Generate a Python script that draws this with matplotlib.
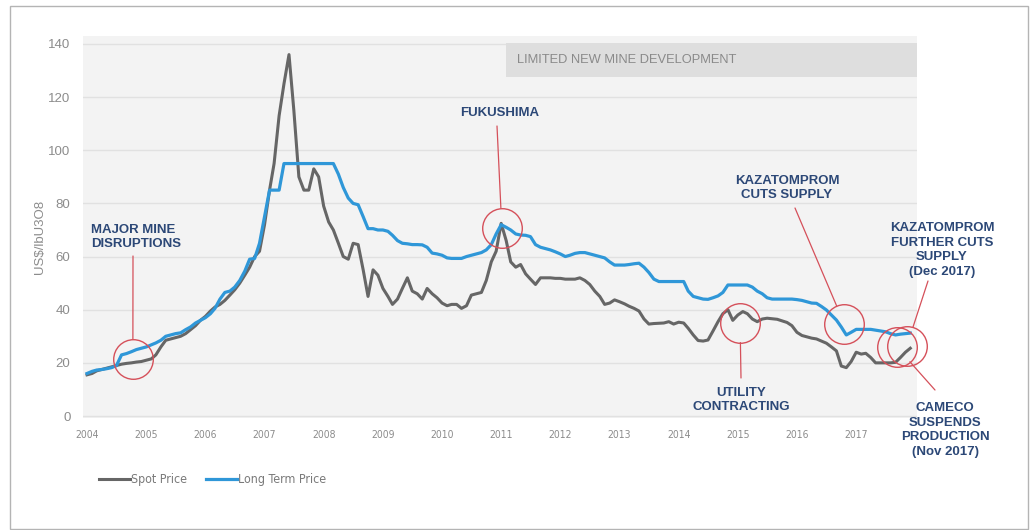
import numpy as np
import pandas as pd
import matplotlib
matplotlib.use("Agg")
import matplotlib.pyplot as plt
import matplotlib.transforms as mtransforms
import matplotlib.patches as mpatches
import matplotlib.dates as mdates

# ---- data: monthly uranium prices, Jan 2004 - Dec 2017 (US$/lb U3O8) ----
start_month = "2004-01-01"

spot_price = [
    # 2004
    15.5, 16.0, 17.0, 17.5, 18.0, 18.5, 19.0, 19.5, 19.8, 20.0, 20.3, 20.5,
    # 2005
    21.0, 21.5, 23.0, 26.0, 28.5, 29.0, 29.5, 30.0, 31.0, 32.5, 34.0, 36.0,
    # 2006
    37.5, 39.5, 41.0, 42.0, 43.5, 45.5, 47.5, 50.0, 53.0, 56.0, 60.0, 62.0,
    # 2007
    72.0, 85.0, 95.0, 113.0, 125.0, 136.0, 115.0, 90.0, 85.0, 85.0, 93.0, 90.0,
    # 2008
    79.0, 73.0, 70.0, 65.0, 60.0, 59.0, 65.0, 64.5, 55.0, 45.0, 55.0, 53.0,
    # 2009
    48.0, 45.0, 42.0, 44.0, 48.0, 52.0, 47.0, 46.0, 44.0, 48.0, 46.0, 44.5,
    # 2010
    42.5, 41.5, 42.0, 42.0, 40.5, 41.5, 45.5, 46.0, 46.5, 51.0, 58.0, 62.0,
    # 2011
    72.5, 66.0, 58.0, 56.0, 57.0, 53.5, 51.5, 49.5, 52.0, 52.0, 52.0, 51.8,
    # 2012
    51.8, 51.5, 51.5, 51.5, 52.0, 51.0, 49.5, 47.0, 45.0, 42.0, 42.5, 43.7,
    # 2013
    43.0, 42.2, 41.3, 40.5, 39.5, 36.5, 34.6, 34.8, 34.9, 35.0, 35.5, 34.6,
    # 2014
    35.3, 35.0, 33.0, 30.5, 28.4, 28.2, 28.6, 32.0, 35.5, 38.5, 40.0, 36.0,
    # 2015
    38.0, 39.3, 38.5, 36.5, 35.5, 36.5, 36.8, 36.6, 36.4, 35.8, 35.2, 34.0,
    # 2016
    31.5, 30.3, 29.8, 29.3, 29.0, 28.2, 27.4, 26.0, 24.5, 18.8, 18.2, 20.5,
    # 2017
    24.0, 23.3, 23.6, 22.0, 20.0, 20.0, 20.0, 20.0, 20.2, 22.0, 24.0, 25.5,
]

long_term_price = [
    # 2004
    16.0, 16.8, 17.3, 17.5, 17.8, 18.2, 19.0, 23.0, 23.5, 24.2, 25.0, 25.5,
    # 2005
    26.0, 26.8, 27.5, 28.5, 30.0, 30.5, 31.0, 31.3, 32.5, 33.5, 35.0, 36.0,
    # 2006
    37.0, 38.5, 40.5, 44.0, 46.5, 47.0, 48.5, 51.0, 54.5, 59.0, 59.3, 65.0,
    # 2007
    75.0, 85.0, 85.0, 85.0, 95.0, 95.0, 95.0, 95.0, 95.0, 95.0, 95.0, 95.0,
    # 2008
    95.0, 95.0, 95.0, 91.0, 86.0, 82.0, 80.0, 79.5, 75.0, 70.5, 70.5, 70.0,
    # 2009
    70.0, 69.5, 68.0, 66.0, 65.0, 64.8, 64.5, 64.5, 64.4, 63.5, 61.3, 61.0,
    # 2010
    60.5, 59.5, 59.3, 59.3, 59.3, 60.0, 60.5, 61.0, 61.5, 62.5, 64.5, 68.5,
    # 2011
    72.0, 71.0, 70.0, 68.5, 68.1, 68.0, 67.5, 64.5, 63.5, 63.0, 62.5, 61.8,
    # 2012
    61.0, 60.0, 60.5, 61.2, 61.5, 61.5, 61.0, 60.5, 60.0, 59.5, 58.0, 56.8,
    # 2013
    56.8, 56.8, 57.0, 57.3, 57.5, 56.0, 54.0, 51.5, 50.6, 50.6, 50.6, 50.6,
    # 2014
    50.6, 50.6, 47.0, 45.0, 44.5, 44.0, 43.9, 44.5, 45.2, 46.5, 49.3, 49.3,
    # 2015
    49.3, 49.3, 49.3, 48.5, 47.0, 46.0, 44.5, 44.0, 44.0, 44.0, 44.0, 44.0,
    # 2016
    43.8, 43.5, 43.0, 42.5, 42.4, 41.2, 39.9, 38.0, 36.1, 33.5, 30.5, 31.5,
    # 2017
    32.6, 32.6, 32.6, 32.6, 32.3, 32.0, 31.7, 31.0, 30.5, 30.8, 31.0, 31.2,
]

year_ticks = list(range(2004, 2018))
y_ticks = [0, 20, 40, 60, 80, 100, 120, 140]

# market events: label, date, price level
event_labels = [
    "MAJOR MINE\nDISRUPTIONS",
    "FUKUSHIMA",
    "UTILITY\nCONTRACTING",
    "KAZATOMPROM\nCUTS SUPPLY",
    "CAMECO\nSUSPENDS\nPRODUCTION\n(Nov 2017)",
    "KAZATOMPROM\nFURTHER CUTS\nSUPPLY\n(Dec 2017)",
]
event_dates = ["2004-10-10", "2011-01-05", "2015-01-15",
               "2016-10-20", "2017-09-08", "2017-11-10"]
event_levels = [21.5, 70.9, 35.1, 34.6, 26.0, 26.4]

# period band label
band_label = "LIMITED NEW MINE DEVELOPMENT"
band_low, band_high = 127.5, 140.3

# ---- styling ----
W, H = 1032, 530
GRAY_LINE = "#666666"
BLUE_LINE = "#2f97d8"
NAVY = "#2c4877"
RED = "#d5505a"
TICK_GRAY = "#8c8c8c"
narrow = dict(family="DejaVu Sans", stretch="condensed")
plt.rcParams["font.family"] = ["Liberation Sans", "DejaVu Sans"]

fig = plt.figure(figsize=(W / 100, H / 100), dpi=100)
fig.patch.set_facecolor("white")

# transform for top-left-origin pixel coordinates
px = mtransforms.Affine2D().scale(1 / W, -1 / H).translate(0, 1) + fig.transFigure

# outer frame
fig.patches.append(mpatches.Rectangle((9.5, 5.5), 1018, 523, transform=px,
                                      fill=False, edgecolor="#b4b4b4", lw=1.0))

ax = fig.add_axes([83 / W, 1 - 418 / H, (917 - 83) / W, (418 - 36) / H])
ax.set_facecolor("#f3f3f3")
for s in ax.spines.values():
    s.set_visible(False)

dates = pd.date_range(start_month, periods=len(spot_price), freq="MS")

ax.axhspan(band_low, band_high, xmin=(506 - 83) / (917 - 83), xmax=1.0,
           color="#dedede", zorder=1, lw=0)

ax.set_yticks(y_ticks)
ax.yaxis.grid(True, color="#e1e1e1", lw=1.0, zorder=0)
ax.set_axisbelow(True)
ax.set_ylim(-0.75, 143.0)

ax.plot(dates, spot_price, color=GRAY_LINE, lw=2.2, zorder=3,
        solid_joinstyle="round", label="Spot Price")
ax.plot(dates, long_term_price, color=BLUE_LINE, lw=2.3, zorder=4,
        solid_joinstyle="round", label="Long Term Price")

x_left = mdates.date2num(pd.Timestamp("2004-01-01")) - 0.068 * 365.25
x_right = mdates.date2num(pd.Timestamp("2004-01-01")) + 14.03 * 365.25
ax.set_xlim(x_left, x_right)
ax.set_xticks([pd.Timestamp(f"{y}-01-01") for y in year_ticks])
ax.set_xticklabels([str(y) for y in year_ticks], fontsize=7.5,
                   color=TICK_GRAY, **narrow)
ax.set_yticklabels([str(v) for v in y_ticks], fontsize=9.5, color=TICK_GRAY)
ax.tick_params(axis="both", length=0)
ax.tick_params(axis="x", pad=9)
ax.tick_params(axis="y", pad=9)

fig.text(40, 237, "US$/lbU3O8", transform=px, rotation=90, ha="center",
         va="center", fontsize=9.5, color=TICK_GRAY)

fig.text(517, 60, band_label, transform=px, ha="left",
         va="center", fontsize=9.3, color="#8a8a8a")

# event circles
event_x = [pd.Timestamp(d) for d in event_dates]
ax.plot(event_x, event_levels, linestyle="none", marker="o", ms=28.5,
        mfc="none", mec=RED, mew=1.0, zorder=6, clip_on=False)

# label placement (pixel positions) and leader line starts
label_pos = [(91, 237, "left"), (500, 113, "center"), (741, 400, "center"),
             (787, 188, "center"), (945, 430, "center"), (942, 250, "center")]
leader_start = [(133, 256), (497, 126), (741, 378),
                (795, 208), (935, 390), (928, 281)]

for lab, (tx, ty, ha), (lx, ly), d, v in zip(event_labels, label_pos,
                                             leader_start, event_x, event_levels):
    fig.text(tx, ty, lab, transform=px, ha=ha, va="center", multialignment=ha,
             fontsize=9.5, fontweight="bold", color=NAVY, linespacing=1.3)
    ax.annotate("", xy=(mdates.date2num(d), v), xycoords="data",
                xytext=(lx, ly), textcoords=px,
                arrowprops=dict(arrowstyle="-", color=RED, lw=0.9,
                                shrinkA=0, shrinkB=14.3),
                annotation_clip=False, zorder=6)

leg = ax.legend(loc="center left", bbox_to_anchor=(88, 480),
                bbox_transform=px, ncol=2, frameon=False,
                handlelength=2.5, handletextpad=0.1, columnspacing=1.5,
                prop={"size": 8.9, **narrow})
for t in leg.get_texts():
    t.set_color("#7a7a7a")

fig.savefig("out.png", dpi=100)
